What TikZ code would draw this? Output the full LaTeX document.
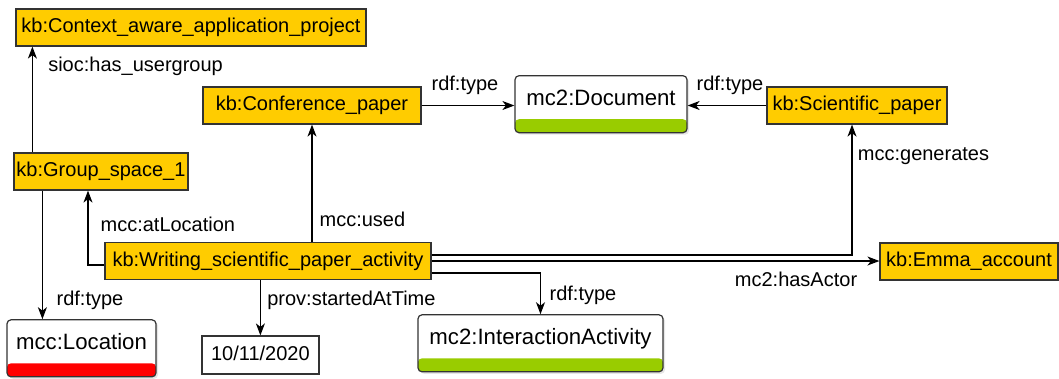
\documentclass[tikz,border=0pt]{standalone}
\usepackage{fontspec}
\setmainfont{Liberation Sans}
\usetikzlibrary{arrows.meta,shadows}
\definecolor{kbyellow}{HTML}{FFCC00}
\definecolor{typegreen}{HTML}{99CC00}
\definecolor{locred}{HTML}{FF0000}
\tikzstyle{txt}=[font=\fontsize{20}{24}\selectfont]
\tikzstyle{instance}=[txt, draw=black!80, fill=kbyellow, minimum height=37pt, inner xsep=0pt, text height=14.5pt, text depth=4.5pt]
\tikzstyle{literal}=[txt, draw=black!80, fill=white, minimum height=38pt, inner xsep=0pt, text height=14.5pt, text depth=4.5pt]
\tikzstyle{classbox}=[font=\fontsize{22.2}{26}\selectfont, draw=black!80, fill=white, rounded corners=4pt, inner ysep=0pt, text height=30pt, text depth=27pt, drop shadow={shadow xshift=2pt, shadow yshift=-2pt, opacity=.2}]
\tikzstyle{prop}=[txt, inner sep=0pt, anchor=base west]
\tikzset{band/.style={path picture={\fill[#1] (path picture bounding box.south west) rectangle ([yshift=13.5pt]path picture bounding box.south east);}}}

\begin{document}
\begin{tikzpicture}[x=1pt, y=-1pt, line width=1.2pt, >={Stealth[length=12pt, width=9pt, inset=3.5pt]}]
                    \useasboundingbox (0,0) rectangle (1059,378);
                    \node[instance, minimum width=350pt] (ctx)   at (191, 27.5)   {kb:Context\_aware\_application\_project};
                    \node[instance, minimum width=218pt] (conf)  at (312, 105.5)  {kb:Conference\_paper};
                    \node[classbox, band=typegreen, minimum width=172pt] (doc) at (601, 104.2) {mc2:Document};
                    \node[instance, minimum width=180pt] (sci)   at (857, 105.5)  {kb:Scientific\_paper};
                    \node[instance, minimum width=174pt] (group) at (101, 171.5)  {kb:Group\_space\_1};
                    \node[instance, minimum width=326pt] (act)   at (268, 261)    {kb:Writing\_scientific\_paper\_activity};
                    \node[instance, minimum width=178pt] (emma)  at (969, 261.4)  {kb:Emma\_account};
                    \node[classbox, band=locred, minimum width=149pt] (loc) at (81.5, 348.3) {mcc:Location};
                    \node[literal, minimum width=117pt]  (date)  at (260.4, 355)  {10/11/2020};
                    \node[classbox, band=typegreen, minimum width=245pt] (inter) at (540.5, 343.3) {mc2:InteractionActivity};
                    \draw[->]  ([xshift=19pt]group.north west) -- ([xshift=17pt]ctx.south west);
                    \draw[->]  (conf.east) -- (conf.east -| doc.west);
                    \draw[->]  (sci.west) -- (sci.west -| doc.east);
                    \draw[->]  (act.north -| conf.south) -- (conf.south);
                    \draw[->]  ([yshift=-4pt]act.west) -| ([xshift=-13pt]group.south);
                    \draw[->]  ([xshift=29pt]group.south west) -- ([xshift=36pt]loc.north west);
                    \draw[->]  (act.south -| date.north) -- (date.north);
                    \draw[->]  ([yshift=-12pt]act.east) -| (inter.north);
                    \draw[->]  ([yshift=6pt]act.east) -| ([xshift=-5pt]sci.south);
                    \draw[->]  (act.east) -- (act.east -| emma.west);
                    \node[prop] (hasgroup)   at (47.7, 71.7)  {sioc:has\_usergroup};
                    \node[prop] (conftype)   at (431, 90.7)   {rdf:type};
                    \node[prop] (scitype)    at (696, 90.7)   {rdf:type};
                    \node[prop] (used)       at (319, 226)    {mcc:used};
                    \node[prop] (atloc)      at (100, 231.7)  {mcc:atLocation};
                    \node[prop] (grouptype)  at (56, 305)     {rdf:type};
                    \node[prop] (started)    at (266.7, 305)  {prov:startedAtTime};
                    \node[prop] (acttype)    at (549, 300)    {rdf:type};
                    \node[prop] (generates)  at (857.3, 160)  {mcc:generates};
                    \node[prop] (hasactor)   at (734.3, 286)  {mc2:hasActor};
                \end{tikzpicture}
\end{document}
